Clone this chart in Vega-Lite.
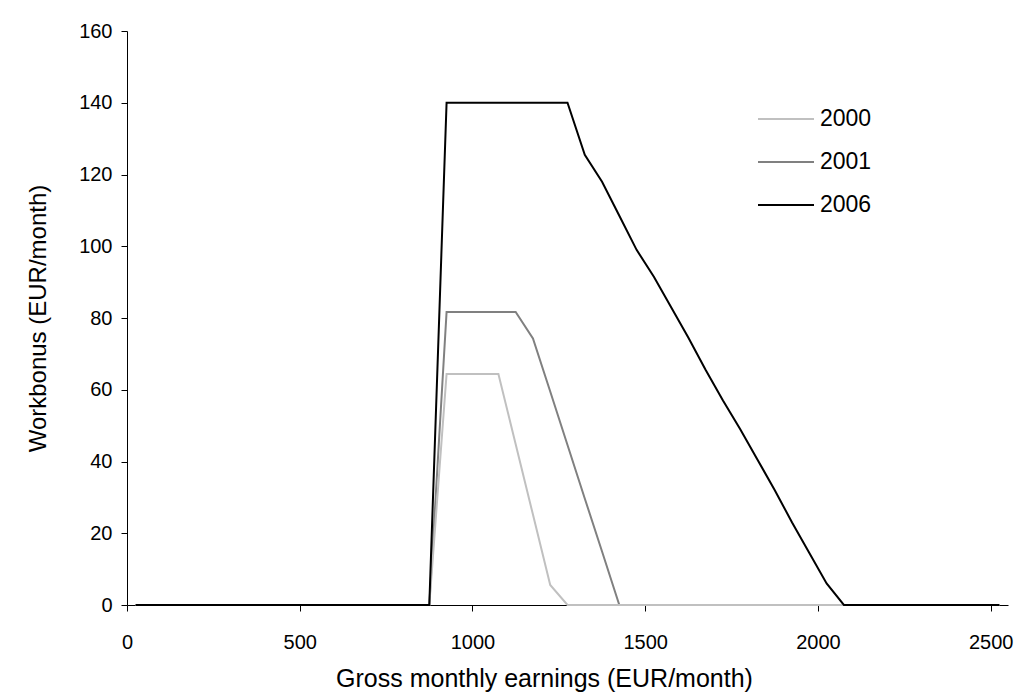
{
  "$schema": "https://vega.github.io/schema/vega-lite/v6.json",
  "autosize": "none",
  "width": 881,
  "height": 574,
  "padding": {"left": 127, "top": 31, "right": 26, "bottom": 94},
  "background": "white",
  "config": {
    "font": "Liberation Sans",
    "view": {"stroke": null},
    "axis": {"grid": false, "domainColor": "#000", "tickColor": "#000", "labelColor": "#000", "titleColor": "#000", "labelFont": "Liberation Sans", "titleFont": "Liberation Sans", "labelFontSize": 19, "titleFontSize": 25, "titleFontWeight": "normal", "tickSize": 6}
  },
  "data": {"values": [
    {"x":25,"s":"2001","y":0},{"x":75,"s":"2001","y":0},{"x":125,"s":"2001","y":0},{"x":175,"s":"2001","y":0},{"x":225,"s":"2001","y":0},{"x":275,"s":"2001","y":0},{"x":325,"s":"2001","y":0},{"x":375,"s":"2001","y":0},{"x":425,"s":"2001","y":0},{"x":475,"s":"2001","y":0},{"x":525,"s":"2001","y":0},{"x":575,"s":"2001","y":0},{"x":625,"s":"2001","y":0},{"x":675,"s":"2001","y":0},{"x":725,"s":"2001","y":0},{"x":775,"s":"2001","y":0},{"x":825,"s":"2001","y":0},{"x":875,"s":"2001","y":0},{"x":925,"s":"2001","y":81.7},{"x":975,"s":"2001","y":81.7},{"x":1025,"s":"2001","y":81.7},{"x":1075,"s":"2001","y":81.7},{"x":1125,"s":"2001","y":81.7},{"x":1175,"s":"2001","y":74.3},{"x":1225,"s":"2001","y":59.5},{"x":1275,"s":"2001","y":44.6},{"x":1325,"s":"2001","y":29.7},{"x":1375,"s":"2001","y":14.9},{"x":1425,"s":"2001","y":0},{"x":1475,"s":"2001","y":0},{"x":1525,"s":"2001","y":0},{"x":1575,"s":"2001","y":0},{"x":1625,"s":"2001","y":0},{"x":1675,"s":"2001","y":0},{"x":1725,"s":"2001","y":0},{"x":1775,"s":"2001","y":0},{"x":1825,"s":"2001","y":0},{"x":1875,"s":"2001","y":0},{"x":1925,"s":"2001","y":0},{"x":1975,"s":"2001","y":0},{"x":2025,"s":"2001","y":0},{"x":2075,"s":"2001","y":0},{"x":2125,"s":"2001","y":0},{"x":2175,"s":"2001","y":0},{"x":2225,"s":"2001","y":0},{"x":2275,"s":"2001","y":0},{"x":2325,"s":"2001","y":0},{"x":2375,"s":"2001","y":0},{"x":2425,"s":"2001","y":0},{"x":2475,"s":"2001","y":0},{"x":2525,"s":"2001","y":0},
    {"x":25,"s":"2000","y":0},{"x":75,"s":"2000","y":0},{"x":125,"s":"2000","y":0},{"x":175,"s":"2000","y":0},{"x":225,"s":"2000","y":0},{"x":275,"s":"2000","y":0},{"x":325,"s":"2000","y":0},{"x":375,"s":"2000","y":0},{"x":425,"s":"2000","y":0},{"x":475,"s":"2000","y":0},{"x":525,"s":"2000","y":0},{"x":575,"s":"2000","y":0},{"x":625,"s":"2000","y":0},{"x":675,"s":"2000","y":0},{"x":725,"s":"2000","y":0},{"x":775,"s":"2000","y":0},{"x":825,"s":"2000","y":0},{"x":875,"s":"2000","y":0},{"x":925,"s":"2000","y":64.4},{"x":975,"s":"2000","y":64.4},{"x":1025,"s":"2000","y":64.4},{"x":1075,"s":"2000","y":64.4},{"x":1125,"s":"2000","y":44.8},{"x":1175,"s":"2000","y":25.2},{"x":1225,"s":"2000","y":5.6},{"x":1275,"s":"2000","y":0},{"x":1325,"s":"2000","y":0},{"x":1375,"s":"2000","y":0},{"x":1425,"s":"2000","y":0},{"x":1475,"s":"2000","y":0},{"x":1525,"s":"2000","y":0},{"x":1575,"s":"2000","y":0},{"x":1625,"s":"2000","y":0},{"x":1675,"s":"2000","y":0},{"x":1725,"s":"2000","y":0},{"x":1775,"s":"2000","y":0},{"x":1825,"s":"2000","y":0},{"x":1875,"s":"2000","y":0},{"x":1925,"s":"2000","y":0},{"x":1975,"s":"2000","y":0},{"x":2025,"s":"2000","y":0},{"x":2075,"s":"2000","y":0},{"x":2125,"s":"2000","y":0},{"x":2175,"s":"2000","y":0},{"x":2225,"s":"2000","y":0},{"x":2275,"s":"2000","y":0},{"x":2325,"s":"2000","y":0},{"x":2375,"s":"2000","y":0},{"x":2425,"s":"2000","y":0},{"x":2475,"s":"2000","y":0},{"x":2525,"s":"2000","y":0},
    {"x":25,"s":"2006","y":0},{"x":75,"s":"2006","y":0},{"x":125,"s":"2006","y":0},{"x":175,"s":"2006","y":0},{"x":225,"s":"2006","y":0},{"x":275,"s":"2006","y":0},{"x":325,"s":"2006","y":0},{"x":375,"s":"2006","y":0},{"x":425,"s":"2006","y":0},{"x":475,"s":"2006","y":0},{"x":525,"s":"2006","y":0},{"x":575,"s":"2006","y":0},{"x":625,"s":"2006","y":0},{"x":675,"s":"2006","y":0},{"x":725,"s":"2006","y":0},{"x":775,"s":"2006","y":0},{"x":825,"s":"2006","y":0},{"x":875,"s":"2006","y":0},{"x":925,"s":"2006","y":140},{"x":975,"s":"2006","y":140},{"x":1025,"s":"2006","y":140},{"x":1075,"s":"2006","y":140},{"x":1125,"s":"2006","y":140},{"x":1175,"s":"2006","y":140},{"x":1225,"s":"2006","y":140},{"x":1275,"s":"2006","y":140},{"x":1325,"s":"2006","y":125.5},{"x":1375,"s":"2006","y":118},{"x":1425,"s":"2006","y":108.5},{"x":1475,"s":"2006","y":99},{"x":1525,"s":"2006","y":91.5},{"x":1575,"s":"2006","y":83},{"x":1625,"s":"2006","y":74.5},{"x":1675,"s":"2006","y":65.5},{"x":1725,"s":"2006","y":57},{"x":1775,"s":"2006","y":49},{"x":1825,"s":"2006","y":40.5},{"x":1875,"s":"2006","y":32},{"x":1925,"s":"2006","y":23},{"x":1975,"s":"2006","y":14.5},{"x":2025,"s":"2006","y":6},{"x":2075,"s":"2006","y":0},{"x":2125,"s":"2006","y":0},{"x":2175,"s":"2006","y":0},{"x":2225,"s":"2006","y":0},{"x":2275,"s":"2006","y":0},{"x":2325,"s":"2006","y":0},{"x":2375,"s":"2006","y":0},{"x":2425,"s":"2006","y":0},{"x":2475,"s":"2006","y":0},{"x":2525,"s":"2006","y":0}
  ]},
  "mark": {"type": "line", "strokeWidth": 2, "clip": false},
  "encoding": {
    "x": {"field": "x", "type": "quantitative", "scale": {"domain": [0, 2550], "nice": false, "zero": false},
          "axis": {"values": [0, 500, 1000, 1500, 2000, 2500], "format": "d", "title": "Gross monthly earnings (EUR/month)", "labelFontSize": 20, "labelPadding": 21, "titlePadding": 14, "titleX": 417, "labelFlush": false}},
    "y": {"field": "y", "type": "quantitative", "scale": {"domain": [0, 160], "nice": false},
          "axis": {"values": [0, 20, 40, 60, 80, 100, 120, 140, 160], "format": "d", "title": "Workbonus (EUR/month)", "labelFontSize": 20, "labelPadding": 9, "titlePadding": 28, "titleFontSize": 24}},
    "color": {"field": "s", "type": "nominal", "sort": ["2000", "2001", "2006"],
              "scale": {"domain": ["2000", "2001", "2006"], "range": ["#c0c0c0", "#808080", "#000000"]},
              "legend": {"title": null, "orient": "none", "legendX": 630, "legendY": 59, "symbolType": "stroke", "symbolSize": 3136, "symbolStrokeWidth": 2, "labelFontSize": 23, "labelFont": "Liberation Sans", "labelColor": "#000", "labelOffset": 5, "rowPadding": 2}},
    "detail": {"field": "s"}
  }
}
